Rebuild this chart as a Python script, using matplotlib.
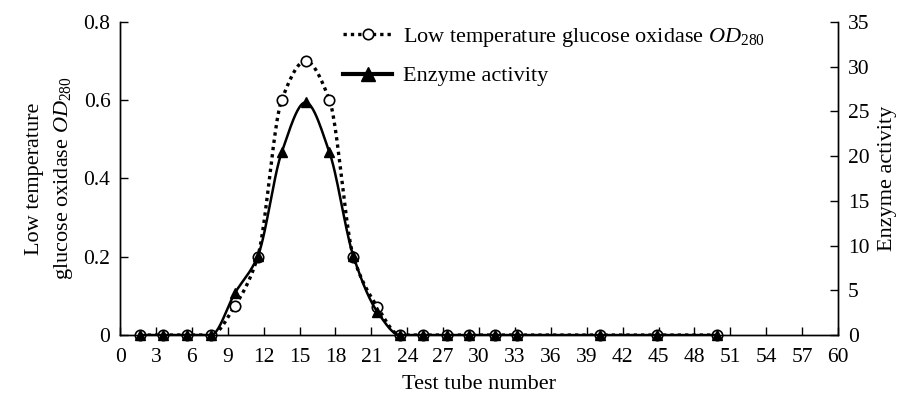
import numpy as np
import matplotlib
matplotlib.use("Agg")
import matplotlib.pyplot as plt
from matplotlib.lines import Line2D

plt.rcParams['font.family'] = ['Liberation Serif', 'DejaVu Serif']
plt.rcParams['mathtext.fontset'] = 'custom'
plt.rcParams['mathtext.rm'] = 'Liberation Serif'
plt.rcParams['mathtext.it'] = 'Liberation Serif:italic'

# Data
tube = [1.7, 3.6, 5.6, 7.6, 9.6, 11.5, 13.5, 15.5, 17.5, 19.5, 21.5,
        23.4, 25.3, 27.3, 29.2, 31.3, 33.2, 40.1, 44.9, 49.9]
od280 = [0, 0, 0, 0, 0.075, 0.20, 0.60, 0.70, 0.60, 0.20, 0.072,
         0, 0, 0, 0, 0, 0, 0, 0, 0]
activity = [0, 0, 0, 0, 4.7, 8.8, 20.4, 26.0, 20.4, 8.8, 2.6,
            0, 0, 0, 0, 0, 0, 0, 0, 0]
xticks = list(range(0, 61, 3))
left_ticks = [0, 0.2, 0.4, 0.6, 0.8]
left_labels = ['0', '0.2', '0.4', '0.6', '0.8']
right_ticks = [0, 5, 10, 15, 20, 25, 30, 35]


def pchip(x, y, n=600):
    x = np.asarray(x, float)
    y = np.asarray(y, float)
    h = np.diff(x)
    d = np.diff(y) / h
    m = np.zeros_like(y)
    for k in range(1, len(x) - 1):
        if d[k - 1] * d[k] > 0:
            w1 = 2 * h[k] + h[k - 1]
            w2 = h[k] + 2 * h[k - 1]
            m[k] = (w1 + w2) / (w1 / d[k - 1] + w2 / d[k])
    xs = np.linspace(x[0], x[-1], n)
    idx = np.clip(np.searchsorted(x, xs) - 1, 0, len(x) - 2)
    t = (xs - x[idx]) / h[idx]
    h00 = 2 * t**3 - 3 * t**2 + 1
    h10 = t**3 - 2 * t**2 + t
    h01 = -2 * t**3 + 3 * t**2
    h11 = t**3 - t**2
    ys = h00 * y[idx] + h10 * h[idx] * m[idx] + h01 * y[idx + 1] + h11 * h[idx] * m[idx + 1]
    return xs, ys


fig = plt.figure(figsize=(9.03, 3.97), dpi=100)
ax = fig.add_axes([0.133, 0.156, 0.795, 0.789])
ax2 = ax.twinx()

xs, ys = pchip(tube, od280)
ax.plot(xs, ys, color='black', lw=2.4, ls=(0, (1, 1.2)), zorder=2)
ax.plot(tube, od280, ls='none', marker='o', ms=7.5, mfc='white', mec='black', mew=1.2,
        zorder=3, clip_on=False)

xs2, ys2 = pchip(tube, activity)
ax2.plot(xs2, ys2, color='black', lw=1.8, zorder=2)
ax2.plot(tube, activity, ls='none', marker='^', ms=7.5, color='black', zorder=3, clip_on=False)

ax.set_xlim(0, 60)
ax.set_ylim(0, 0.8)
ax2.set_ylim(0, 35)
ax.set_xticks(xticks)
ax.set_yticks(left_ticks)
ax.set_yticklabels(left_labels)
ax2.set_yticks(right_ticks)

for a in (ax, ax2):
    a.spines['top'].set_visible(False)
    for s in a.spines.values():
        s.set_linewidth(1.0)
    a.tick_params(direction='in', length=6, width=1.0, labelsize=15.5, pad=7)
ax.tick_params(axis='x', pad=9)

ax.set_xlabel('Test tube number', fontsize=16, labelpad=6)
ax.set_ylabel('Low temperature\nglucose oxidase $\\mathit{OD}_{280}$', fontsize=16,
              labelpad=6, linespacing=1.5)
ax2.set_ylabel('Enzyme activity', fontsize=16, labelpad=6)

h1 = Line2D([], [], color='black', lw=2.4, ls=(0, (1, 1.2)), marker='o', ms=7.5,
            mfc='white', mec='black', mew=1.2)
h2 = Line2D([], [], color='black', lw=3.0, marker='^', ms=10)
ax.legend([h1, h2], ['Low temperature glucose oxidase $\\mathit{OD}_{280}$', 'Enzyme activity'],
          loc='upper left', bbox_to_anchor=(0.283, 1.05), frameon=False, fontsize=16,
          handlelength=2.2, handletextpad=0.5, labelspacing=0.75)

fig.savefig('out.png', dpi=100)
